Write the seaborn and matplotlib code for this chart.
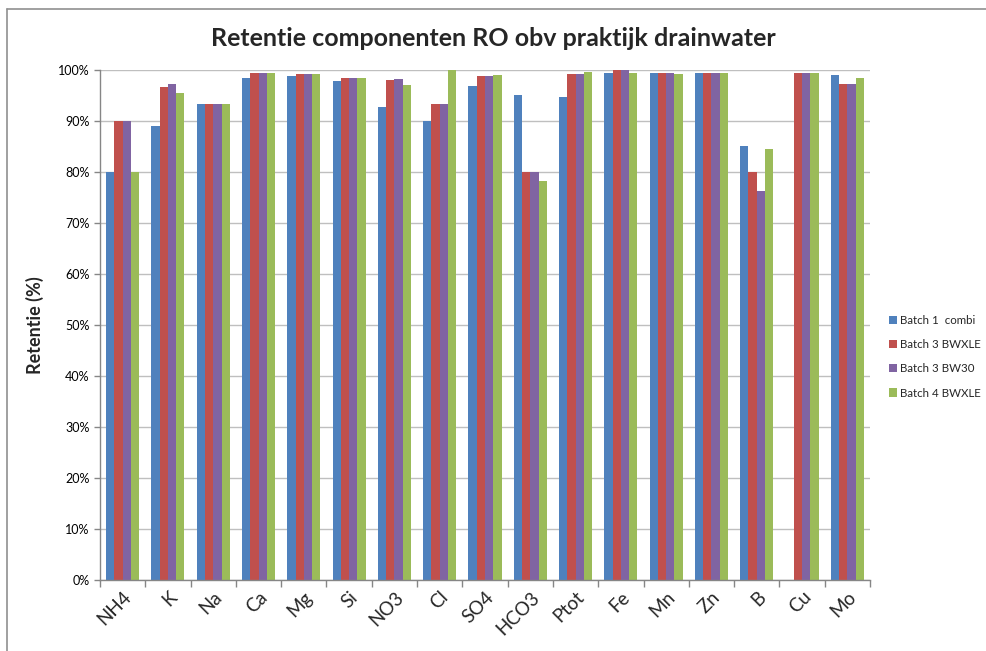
import matplotlib
matplotlib.use("Agg")
import matplotlib.pyplot as plt
import seaborn as sns
import pandas as pd
from matplotlib.lines import Line2D
from matplotlib.ticker import PercentFormatter, FixedLocator

categories = ["NH4", "K", "Na", "Ca", "Mg", "Si", "NO3", "Cl", "SO4", "HCO3",
              "Ptot", "Fe", "Mn", "Zn", "B", "Cu", "Mo"]
series_names = ["Batch 1  combi", "Batch 3 BWXLE", "Batch 3 BW30", "Batch 4 BWXLE"]
batch1_combi = [80.0, 89.0, 93.4, 98.5, 98.9, 97.8, 92.7, 90.0, 96.9, 95.0,
                94.8, 99.5, 99.4, 99.4, 85.0, 0.0, 99.0]
batch3_bwxle = [90.0, 96.7, 93.4, 99.5, 99.3, 98.5, 98.0, 93.4, 98.9, 80.0,
                99.3, 100.0, 99.5, 99.5, 80.0, 99.4, 97.2]
batch3_bw30 = [90.0, 97.2, 93.4, 99.5, 99.3, 98.5, 98.2, 93.4, 98.9, 80.0,
               99.2, 100.0, 99.5, 99.5, 76.3, 99.4, 97.2]
batch4_bwxle = [80.0, 95.5, 93.4, 99.4, 99.3, 98.5, 97.0, 100.0, 99.0, 78.3,
                99.6, 99.5, 99.3, 99.5, 84.5, 99.5, 98.5]
colors = ["#4F81BD", "#C0504D", "#8064A2", "#9BBB59"]

rows = []
for name, vals in zip(series_names, [batch1_combi, batch3_bwxle, batch3_bw30, batch4_bwxle]):
    for c, v in zip(categories, vals):
        rows.append({"Component": c, "Series": name, "Value": v})
df = pd.DataFrame(rows)

sns.set_theme(style="white")
plt.rcParams["font.family"] = ["Lato", "DejaVu Sans"]

fig = plt.figure(figsize=(9.87, 6.51), dpi=100)
ax = fig.add_axes([100/987, 1-580/651, 770/987, 510/651])

sns.barplot(data=df, x="Component", y="Value", hue="Series", order=categories,
            hue_order=series_names, palette=colors, saturation=1, width=0.73,
            linewidth=0, edgecolor="none", ax=ax, legend=True)

ax.set_ylim(0, 100)
ax.set_xlim(-0.5, len(categories)-0.5)
ax.set_yticks(range(0, 101, 10))
ax.yaxis.set_major_formatter(PercentFormatter(decimals=0))
ax.grid(axis="y", color="#BFBFBF", linewidth=1)
ax.set_axisbelow(True)
for s in ["top", "right"]:
    ax.spines[s].set_visible(False)
for s in ["left", "bottom"]:
    ax.spines[s].set_color("#868686")
    ax.spines[s].set_linewidth(1)

ax.tick_params(axis="y", labelsize=9, colors="#868686", length=4, direction="out", left=True, width=1)
ax.tick_params(axis="y", labelcolor="black")
ax.tick_params(axis="x", labelsize=13.5, length=0, pad=6)
ax.xaxis.set_minor_locator(FixedLocator([i - 0.5 for i in range(len(categories)+1)]))
ax.tick_params(axis="x", which="minor", length=5, color="#868686", bottom=True)
for lbl in ax.get_xticklabels():
    lbl.set_rotation(45)
    lbl.set_ha("right")
    lbl.set_rotation_mode("anchor")

ax.set_xlabel("")
ax.set_ylabel("Retentie (%)", fontsize=13, fontweight="bold", labelpad=10)
fig.text(0.5, 1-38/651, "Retentie componenten RO obv praktijk drainwater",
         ha="center", va="center", fontsize=18, fontweight="bold")

leg = ax.legend(loc="center left", bbox_to_anchor=(784/770, 0.438),
                frameon=False, fontsize=8.3, handlelength=0.7, handleheight=0.7,
                handletextpad=0.3, labelspacing=1.15, borderaxespad=0)

# partial outer frame (left and top edges only, as in the reference crop)
fig.add_artist(Line2D([7/987, 7/987], [0, 1-9/651], transform=fig.transFigure,
                      color="#909090", linewidth=1.2))
fig.add_artist(Line2D([7/987, 1], [1-9/651, 1-9/651], transform=fig.transFigure,
                      color="#909090", linewidth=1.2))

fig.savefig("out.png", dpi=100)
